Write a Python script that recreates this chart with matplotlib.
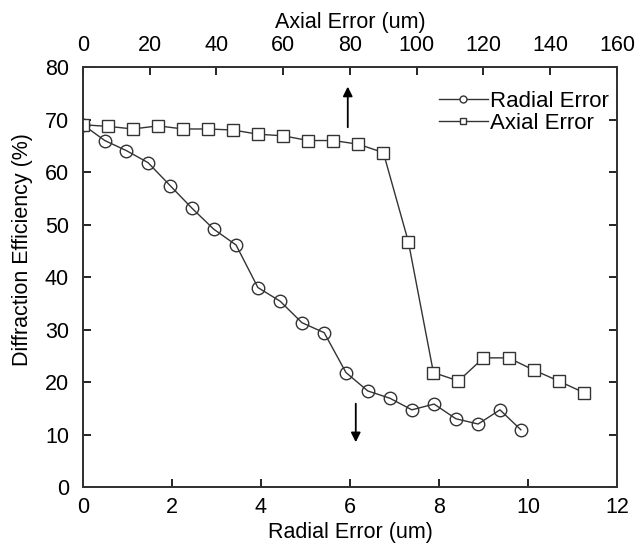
import matplotlib
matplotlib.use("Agg")
import matplotlib.pyplot as plt

plt.rcParams['font.family'] = ['Liberation Sans', 'DejaVu Sans']

# Radial error sweep (bottom axis, um)
radial_x = [0, 0.49, 0.97, 1.46, 1.96, 2.45, 2.94, 3.44, 3.93, 4.43, 4.92,
            5.42, 5.91, 6.40, 6.90, 7.39, 7.89, 8.38, 8.88, 9.37, 9.84]
radial_eff = [69.0, 66.0, 64.1, 61.8, 57.4, 53.1, 49.1, 46.1, 38.0, 35.4, 31.3,
              29.4, 21.8, 18.3, 16.9, 14.7, 15.8, 13.0, 12.0, 14.7, 10.9]

# Axial error sweep (top axis, um)
axial_x = [0, 7.5, 15, 22.5, 30, 37.5, 45, 52.5, 60, 67.5, 75,
           82.5, 90, 97.5, 105, 112.5, 120, 127.5, 135, 142.5, 150]
axial_eff = [69.0, 68.7, 68.2, 68.8, 68.2, 68.2, 68.0, 67.2, 66.9, 66.0, 66.0,
             65.3, 63.7, 46.7, 21.8, 20.2, 24.6, 24.6, 22.3, 20.2, 18.0]

line_color = '#333333'
fs = 15.5

fig = plt.figure(figsize=(6.36, 5.45), dpi=100)
ax = fig.add_axes([0.1305, 0.1064, 0.8396, 0.7706])
ax2 = ax.twiny()

ax.plot(radial_x, radial_eff, color=line_color, lw=1.0, marker='o', ms=9,
        mfc='none', mec=line_color, mew=1.0)
ax2.plot(axial_x, axial_eff, color=line_color, lw=1.0, marker='s', ms=9,
         mfc='white', mec=line_color, mew=1.0)

ax.set_xlim(0, 12)
ax.set_ylim(0, 80)
ax2.set_xlim(0, 160)
ax.set_xticks(range(0, 13, 2))
ax.set_yticks(range(0, 81, 10))
ax2.set_xticks(range(0, 161, 20))

for a in (ax, ax2):
    a.tick_params(direction='in', length=6, width=1.2, labelsize=fs)
    for s in a.spines.values():
        s.set_linewidth(1.3)
        s.set_color('#333333')
ax.tick_params(right=True)
ax.tick_params(axis='x', pad=7)
ax.tick_params(axis='y', pad=10)
ax2.tick_params(axis='x', pad=8)

ax.set_xlabel('Radial Error (um)', fontsize=fs, labelpad=3)
ax.set_ylabel('Diffraction Efficiency (%)', fontsize=fs)
ax.yaxis.set_label_coords(-0.094, 0.565)
ax2.set_xlabel('Axial Error (um)', fontsize=fs, labelpad=5)

# arrows pointing to the relevant axis
ax.annotate('', xy=(5.95, 76.8), xytext=(5.95, 68.0),
            arrowprops=dict(arrowstyle='-|>', color='black', lw=1.3, mutation_scale=14))
ax.annotate('', xy=(6.13, 8.0), xytext=(6.13, 16.4),
            arrowprops=dict(arrowstyle='-|>', color='black', lw=1.3, mutation_scale=14))

h1, = ax.plot([], [], color=line_color, lw=1.0, marker='o', ms=5, mfc='white', mec=line_color)
h2, = ax.plot([], [], color=line_color, lw=1.0, marker='s', ms=5, mfc='white', mec=line_color)
ax.legend([h1, h2], ['Radial Error', 'Axial Error'], loc='upper right',
          frameon=False, fontsize=16, handlelength=2.2, handletextpad=0.1,
          labelspacing=0.05, borderaxespad=0.2, bbox_to_anchor=(1.01, 0.975))

fig.savefig('out.png', dpi=100)
